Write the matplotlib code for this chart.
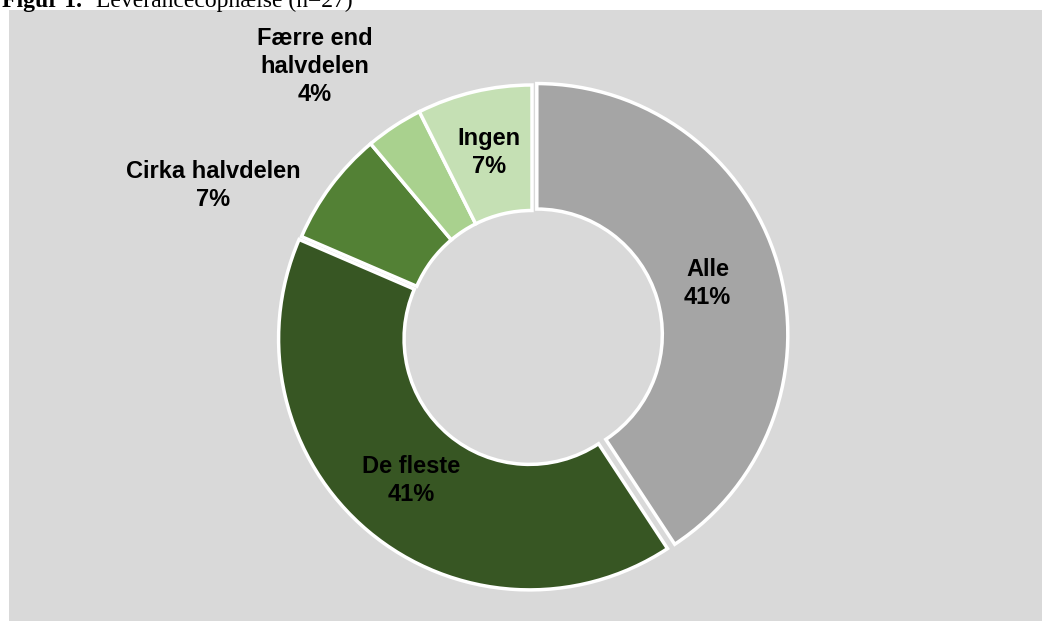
import numpy as np
import matplotlib.pyplot as plt
from matplotlib.patches import Rectangle

labels = ['Alle', 'De fleste', 'Cirka halvdelen', 'Færre end\nhalvdelen', 'Ingen']
counts = [11, 11, 2, 1, 2]
colors = ['#a5a5a5', '#375623', '#538135', '#a9d18e', '#c5e0b4']
explode = [0.02, 0.015, 0, 0, 0]

# label placement: (extra angle in degrees, radius)
lab_pos = [(0, 0.73), (0, 0.75), (11.4, 1.405), (5.5, 1.38), (0, 0.75)]

W, H = 1042, 621
fig = plt.figure(figsize=(W / 100, H / 100), dpi=100)
fig.patches.append(Rectangle((9 / W, 0), 1 - 9 / W, (H - 10) / H,
                             transform=fig.transFigure, facecolor='#d9d9d9',
                             edgecolor='none', zorder=0))

fig.text(2 / W, 1 - 7 / H, 'Figur 1.', fontfamily='Liberation Serif',
         fontweight='bold', fontsize=17, va='baseline', ha='left')
fig.text(96 / W, 1 - 7 / H, 'Leverancecophælse (n=27)', fontfamily='Liberation Serif',
         fontsize=17, va='baseline', ha='left')

ax = fig.add_axes([0, 0, 1, 1])
ax.set_zorder(2)
ax.set_facecolor('none')
R = 251
cx, cy = 532, H - 336

wedges, _ = ax.pie(counts, colors=colors, startangle=90, counterclock=False,
                   explode=explode, radius=1,
                   wedgeprops=dict(width=0.5, edgecolor='white', linewidth=2.5))

total = sum(counts)
pct = [c / total * 100 for c in counts]
cum = np.cumsum([0] + counts[:-1])
for i, lab in enumerate(labels):
    mid = 90 - (cum[i] + counts[i] / 2) / total * 360
    extra, r = lab_pos[i]
    a = np.deg2rad(mid + extra)
    ax.text(r * np.cos(a), r * np.sin(a), '%s\n%d%%' % (lab, round(pct[i])),
            ha='center', va='center', fontsize=17, fontweight='bold',
            fontfamily='Liberation Sans', linespacing=1.27)

ax.set_xlim(-cx / R, (W - cx) / R)
ax.set_ylim(-cy / R, (H - cy) / R)
ax.set_aspect('auto')
ax.axis('off')

fig.savefig('out.png', dpi=100)
